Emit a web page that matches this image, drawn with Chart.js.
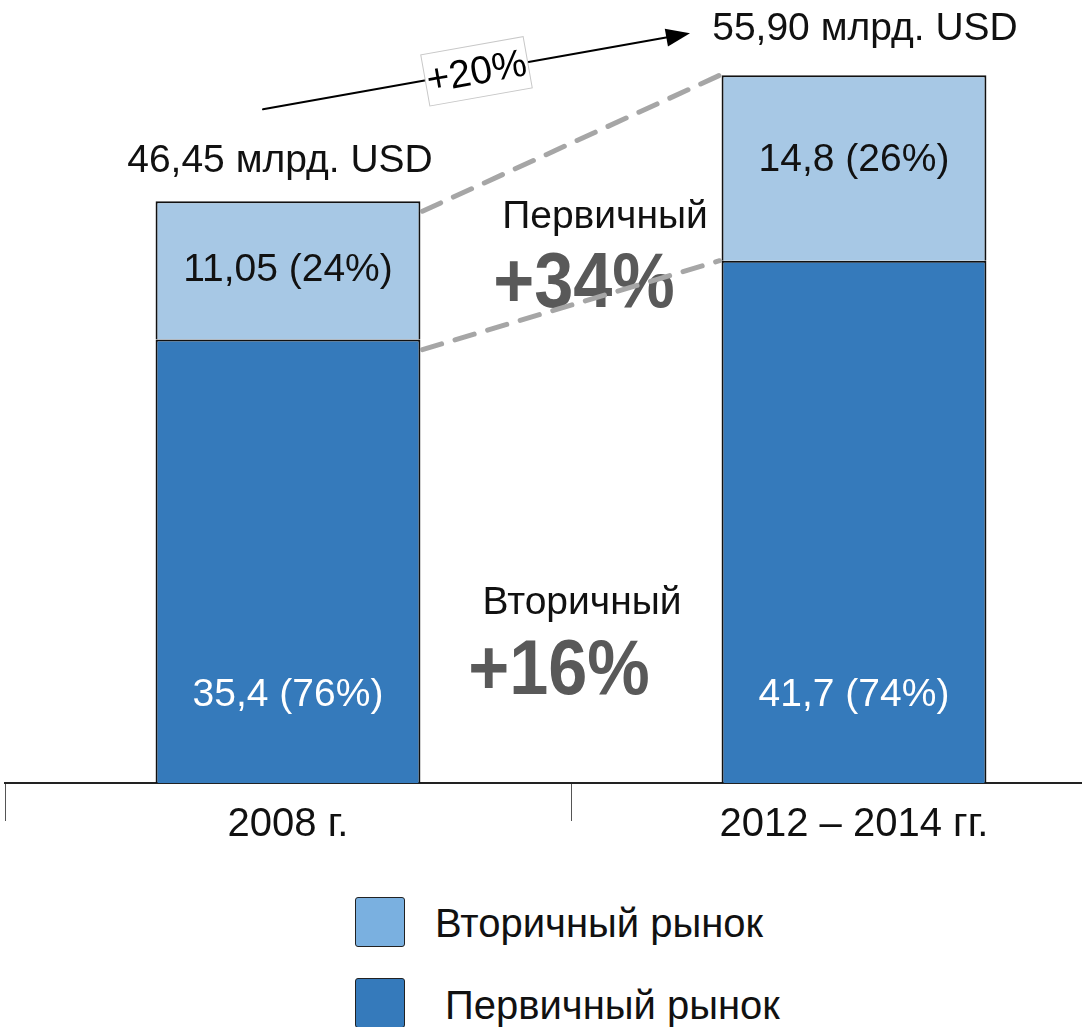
<!DOCTYPE html>
<html>
<head>
<meta charset="utf-8">
<script src="https://cdn.jsdelivr.net/npm/chart.js@4"></script>
<style>
  html, body { margin: 0; padding: 0; background: #fff; overflow: hidden; }
  #wrap { position: relative; width: 1082px; height: 1027px; overflow: hidden; }
  #chart { position: absolute; left: 0; top: 0; }
  .leg { position: absolute; font-family: "Liberation Sans", Arial, sans-serif; font-size: 40px; color: #111; line-height: 1; }
  .sw { position: absolute; width: 48px; height: 48px; border: 1.5px solid #222; border-radius: 3px; }
</style>
</head>
<body>
<div id="wrap">
  <canvas id="chart" width="1137" height="880"></canvas>
  <div class="sw" style="left:355px; top:897px; background:#7ab0e0;"></div>
  <div class="leg" style="left:435px; top:903px;">Вторичный рынок</div>
  <div class="sw" style="left:355px; top:978px; background:#357abb;"></div>
  <div class="leg" style="left:445px; top:985px;">Первичный рынок</div>
</div>
<script>
// data
const categories = ["2008 г.", "2012 – 2014 гг."];
const primaryValues = [35.4, 41.7];     // dark, bottom
const secondaryValues = [11.05, 14.8];  // light, top
const primaryLabels = ["35,4 (76%)", "41,7 (74%)"];
const secondaryLabels = ["11,05 (24%)", "14,8 (26%)"];
const totalLabels = ["46,45 млрд. USD", "55,90 млрд. USD"];
const growthTotal = "+20%";
const growthPrimary = ["Первичный", "+34%"];
const growthSecondary = ["Вторичный", "+16%"];

const FONT = '"Liberation Sans", Arial, sans-serif';

function boldText(ctx, txt, x, y) {
  ctx.save();
  ctx.translate(x, y);
  ctx.scale(0.9, 1);
  ctx.font = "bold 78px " + FONT;
  ctx.fillStyle = "#595959";
  ctx.textAlign = "center";
  ctx.textBaseline = "middle";
  ctx.fillText(txt, 0, 0);
  ctx.restore();
}

const annotations = {
  id: "annotations",
  afterDatasetsDraw(chart) {
    const ctx = chart.ctx;
    const low = chart.getDatasetMeta(0).data;
    const up = chart.getDatasetMeta(1).data;

    ctx.save();
    ctx.textAlign = "center";
    ctx.textBaseline = "middle";
    ctx.font = "39px " + FONT;

    // labels in bars
    for (let i = 0; i < low.length; i++) {
      ctx.fillStyle = "#ffffff";
      ctx.fillText(primaryLabels[i], low[i].x, low[i].base - 88);
      ctx.fillStyle = "#111111";
      ctx.fillText(secondaryLabels[i], up[i].x, (up[i].y + up[i].base) / 2 - (i ? 8 : 0));
    }

    // totals
    ctx.fillText(totalLabels[0], up[0].x - 8, up[0].y - 40);
    ctx.fillText(totalLabels[1], up[1].x + 11, up[1].y - 46);

    // middle texts
    const mid = (up[0].x + up[0].width / 2 + up[1].x - up[1].width / 2) / 2;
    ctx.fillText(growthPrimary[0], mid + 34, 217);
    ctx.fillText(growthSecondary[0], mid + 11, 603);
    boldText(ctx, growthPrimary[1], mid + 13, 285);
    boldText(ctx, growthSecondary[1], mid - 12, 672);

    // dashed connectors
    const r0 = up[0].x + up[0].width / 2, l1 = up[1].x - up[1].width / 2;
    ctx.strokeStyle = "#a6a6a6";
    ctx.lineWidth = 5;
    ctx.lineCap = "round";
    ctx.setLineDash([20, 14]);
    ctx.beginPath();
    ctx.moveTo(r0 + 2, up[0].y + 10);
    ctx.lineTo(l1 - 2, up[1].y);
    ctx.moveTo(r0 + 2, low[0].y + 10);
    ctx.lineTo(l1 - 2, low[1].y);
    ctx.stroke();
    ctx.setLineDash([]);

    // arrow
    const x1 = up[0].x - 25, y1 = up[0].y - 92;
    const x2 = up[1].x - 164, y2 = up[1].y - 42;
    const ang = Math.atan2(y2 - y1, x2 - x1);
    ctx.strokeStyle = "#000";
    ctx.lineWidth = 2;
    ctx.beginPath();
    ctx.moveTo(x1, y1);
    ctx.lineTo(x2 - 20 * Math.cos(ang), y2 - 20 * Math.sin(ang));
    ctx.stroke();
    ctx.fillStyle = "#000";
    ctx.beginPath();
    ctx.moveTo(x2, y2);
    ctx.lineTo(x2 - 24 * Math.cos(ang) + 9 * Math.sin(ang), y2 - 24 * Math.sin(ang) - 9 * Math.cos(ang));
    ctx.lineTo(x2 - 24 * Math.cos(ang) - 9 * Math.sin(ang), y2 - 24 * Math.sin(ang) + 9 * Math.cos(ang));
    ctx.closePath();
    ctx.fill();

    // +20% box
    ctx.save();
    ctx.translate((x1 + x2) / 2, (y1 + y2) / 2);
    ctx.rotate(ang);
    ctx.fillStyle = "#fff";
    ctx.fillRect(-52, -26, 104, 52);
    ctx.strokeStyle = "#c8c8c8";
    ctx.lineWidth = 1;
    ctx.strokeRect(-52, -26, 104, 52);
    ctx.fillStyle = "#000";
    ctx.font = "39px " + FONT;
    ctx.fillText(growthTotal, 0, 2);
    ctx.restore();

    ctx.restore();
  }
};

new Chart(document.getElementById("chart"), {
  type: "bar",
  data: {
    labels: categories,
    datasets: [
      {
        label: "Первичный рынок",
        data: primaryValues,
        backgroundColor: "#357abb",
        borderColor: "#111",
        borderWidth: 2
      },
      {
        label: "Вторичный рынок",
        data: secondaryValues,
        backgroundColor: "#a7c8e5",
        borderColor: "#111",
        borderWidth: 2
      }
    ]
  },
  options: {
    responsive: false,
    animation: false,
    events: [],
    layout: { padding: { left: 5, right: 0, top: 24, bottom: 11 } },
    datasets: { bar: { barPercentage: 0.468, categoryPercentage: 1 } },
    plugins: { legend: { display: false }, tooltip: { enabled: false } },
    scales: {
      x: {
        stacked: true,
        border: { color: "#222", width: 2 },
        grid: { offset: true, drawOnChartArea: false, drawTicks: true, tickLength: 38, color: "#555", lineWidth: 1 },
        ticks: { color: "#111", padding: -20, font: { family: FONT, size: 40 } },
        afterFit(scale) { scale.height += 40; }
      },
      y: {
        stacked: true,
        display: false,
        min: 0,
        max: 60.6
      }
    }
  },
  plugins: [annotations]
});
</script>
</body>
</html>
